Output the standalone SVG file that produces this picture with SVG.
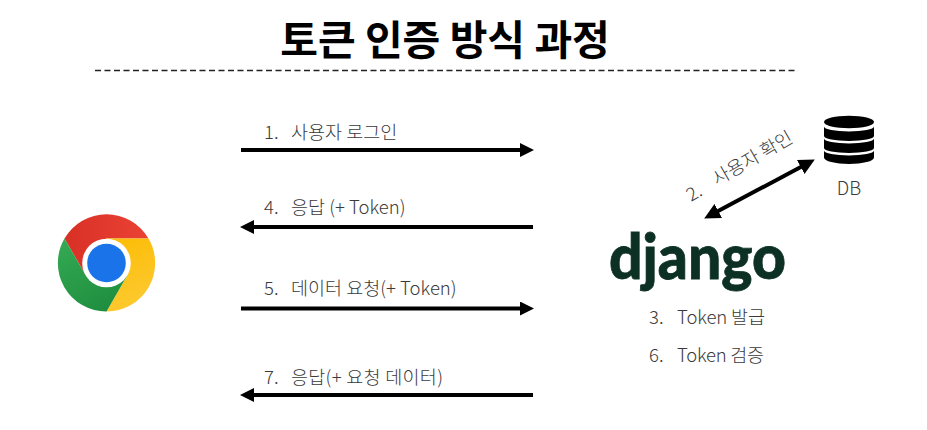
<svg xmlns="http://www.w3.org/2000/svg" width="927" height="430" viewBox="0 0 927 430">
<style>
text{font-family:"Noto Sans CJK KR","Noto Sans",sans-serif;}
.l{font-size:18.500px;font-weight:300;fill:#3a3a3a;}
.c{stroke:#000;stroke-width:4;fill:none;}
</style>
<defs>
<marker id="a" markerUnits="userSpaceOnUse" markerWidth="14" markerHeight="14" refX="6" refY="7" orient="auto-start-reverse"><path d="M0 0L14 7L0 14Z" fill="#000"/></marker>
<marker id="b" markerUnits="userSpaceOnUse" markerWidth="16" markerHeight="16" refX="6" refY="8" orient="auto-start-reverse"><path d="M0 0L16 8L0 16Z" fill="#000"/></marker>
<linearGradient id="r" x1="0" x2="1" y1="0" y2="0"><stop offset="0" stop-color="#d93025"/><stop offset="1" stop-color="#ea4335"/></linearGradient>
<linearGradient id="y" x1="0" x2="0.3" y1="0" y2="1"><stop offset="0" stop-color="#fcbc04"/><stop offset="1" stop-color="#fdc92f"/></linearGradient>
<linearGradient id="g" x1="0.2" x2="0.7" y1="0" y2="1"><stop offset="0" stop-color="#34a853"/><stop offset="1" stop-color="#1e8e3e"/></linearGradient>
</defs>
<rect width="927" height="430" fill="#fff"/>
<g id="title"><text x="445" y="55" text-anchor="middle" font-size="41" font-weight="700" fill="#000">토큰 인증 방식 과정</text>
<line x1="95" y1="70.500" x2="796" y2="70.500" stroke="#222" stroke-width="1.300" stroke-dasharray="6 3.500"/></g>
<g id="connectors">
<line class="c" x1="241" y1="150" x2="526" y2="150" marker-end="url(#a)"/>
<line class="c" x1="533" y1="227" x2="248" y2="227" marker-end="url(#a)"/>
<line class="c" x1="241" y1="308.500" x2="526" y2="308.500" marker-end="url(#a)"/>
<line class="c" x1="533" y1="395" x2="248" y2="395" marker-end="url(#a)"/>
<line class="c" x1="713" y1="213.800" x2="806" y2="164.200" marker-start="url(#b)" marker-end="url(#b)"/>
</g>
<g id="labels">
<text class="l" x="264" y="139">1.</text><text class="l" x="291" y="139">사용자 로그인</text>
<text class="l" x="264" y="214">4.</text><text class="l" x="291" y="214">응답 (+ Token)</text>
<text class="l" x="264" y="295">5.</text><text class="l" x="291" y="295">데이터 요청(+ Token)</text>
<text class="l" x="264" y="384">7.</text><text class="l" x="291" y="384" textLength="152">응답(+ 요청 데이터)</text>
<text class="l" transform="translate(691 202) rotate(-30)">2.</text><text class="l" transform="translate(717 186) rotate(-30)">사용자 확인</text>
</g>
<g id="chrome">
<path d="M64.500 238.500A48.500 48.500 0 0 1 148.500 238.500H106.500L85.500 275Z" fill="url(#r)"/>
<path d="M148.500 238.500A48.500 48.500 0 0 1 106.500 311.500L127.500 275L106.500 238.500Z" fill="url(#y)"/>
<path d="M106.500 311.500A48.500 48.500 0 0 1 64.500 238.500L85.500 275H127.500Z" fill="url(#g)"/>
<circle cx="106.500" cy="263" r="24.300" fill="#fff"/>
<circle cx="106.500" cy="263" r="19.300" fill="#1a73e8"/>
</g>
<g id="django">
<text x="609" y="279" font-size="63" font-weight="900" fill="#0c3023" stroke="#0c3023" stroke-width="0.800" style="font-family:Lato,'Open Sans',sans-serif" textLength="177" lengthAdjust="spacingAndGlyphs">django</text>
<text class="l" x="649" y="324">3.</text><text class="l" x="677" y="324" textLength="88">Token 발급</text>
<text class="l" x="649" y="362">6.</text><text class="l" x="677" y="362" textLength="87">Token 검증</text>
</g>
<g id="db">
<ellipse cx="849" cy="122" rx="25" ry="6.300" fill="#000"/>
<path d="M824 126.500A25 5 0 0 0 874 126.500V136A25 5 0 0 1 824 136Z" fill="#000"/>
<path d="M824 138.500A25 5 0 0 0 874 138.500V148A25 5 0 0 1 824 148Z" fill="#000"/>
<path d="M824 150.500A25 5 0 0 0 874 150.500V157.500A25 6.500 0 0 1 824 157.500Z" fill="#000"/>
<text class="l" x="849" y="195" text-anchor="middle">DB</text>
</g>
</svg>
